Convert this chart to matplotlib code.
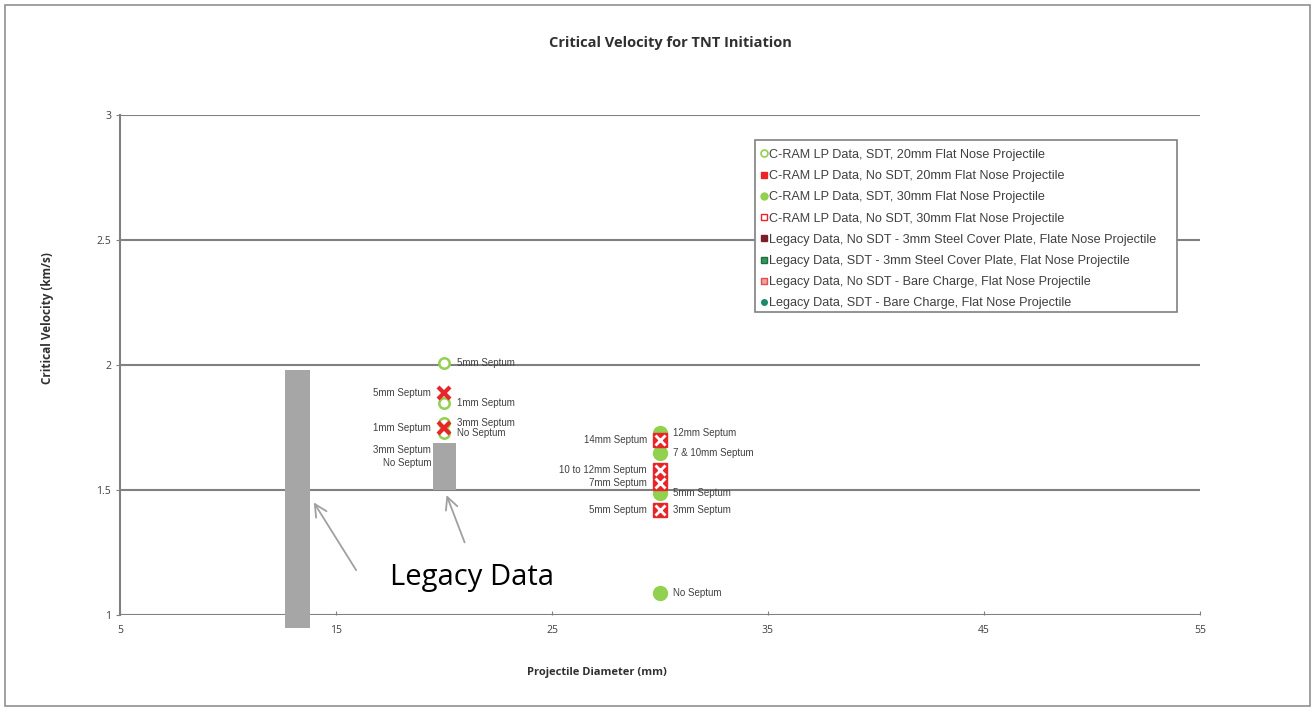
import matplotlib
matplotlib.use("Agg")
import matplotlib.pyplot as plt
from matplotlib.patches import Rectangle
from matplotlib.lines import Line2D

plt.rcParams['font.family'] = ['Open Sans', 'DejaVu Sans']

# ---- data ----
sdt20_x = [20, 20, 20, 20]
sdt20_y = [2.01, 1.85, 1.77, 1.73]
sdt20_lbl = ["5mm Septum", "1mm Septum", "3mm Septum", "No Septum"]

nosdt20_x = [20, 20]
nosdt20_y = [1.89, 1.75]
nosdt20_lbl = ["5mm Septum", "1mm Septum"]

sdt30_x = [30, 30, 30, 30]
sdt30_y = [1.73, 1.65, 1.49, 1.09]
sdt30_lbl = ["12mm Septum", "7 & 10mm Septum", "5mm Septum", "No Septum"]

nosdt30_x = [30, 30, 30, 30]
nosdt30_y = [1.70, 1.58, 1.53, 1.42]
nosdt30_lbl = ["14mm Septum", "10 to 12mm Septum", "7mm Septum", "5mm Septum"]

extra_right_x = [30]
extra_right_y = [1.42]
extra_right_lbl = ["3mm Septum"]

legacy_lbl_x = [20, 20]
legacy_lbl_y = [1.66, 1.61]
legacy_lbl = ["3mm Septum", "No Septum"]

# legacy shaded ranges: (x0, x1, y0, y1)
legacy_bars = [(12.65, 13.8, 0.95, 1.98), (19.47, 20.55, 1.5, 1.69)]

series_names = [
    "C-RAM LP Data, SDT, 20mm Flat Nose Projectile",
    "C-RAM LP Data, No SDT, 20mm Flat Nose Projectile",
    "C-RAM LP Data, SDT, 30mm Flat Nose Projectile",
    "C-RAM LP Data, No SDT, 30mm Flat Nose Projectile",
    "Legacy Data, No SDT - 3mm Steel Cover Plate, Flate Nose Projectile",
    "Legacy Data, SDT - 3mm Steel Cover Plate, Flat Nose Projectile",
    "Legacy Data, No SDT - Bare Charge, Flat Nose Projectile",
    "Legacy Data, SDT - Bare Charge, Flat Nose Projectile",
]

x_ticks = [5, 15, 25, 35, 45, 55]
y_ticks = [1, 1.5, 2, 2.5, 3]

GREEN = "#92d050"
RED = "#e8262a"
grid_c = "#808080"
txt_c = "#404040"
ARIAL = ['Liberation Sans', 'DejaVu Sans']

fig = plt.figure(figsize=(13.15, 7.12), dpi=100)
ax = fig.add_axes([0.0913, 0.1362, 0.8212, 0.7023])
ax.set_xlim(5, 55)
ax.set_ylim(1, 3)
ax.set_xticks(x_ticks)
ax.set_yticks(y_ticks)
ax.set_yticklabels([f"{v:g}" for v in y_ticks])
for s in ["top", "right", "bottom"]:
    ax.spines[s].set_visible(False)
ax.spines["left"].set_color(grid_c)
ax.spines["left"].set_linewidth(1.5)
for yv in y_ticks:
    ax.axhline(yv, color=grid_c, lw=1.5, zorder=1)
ax.tick_params(axis='both', colors=grid_c, labelcolor=txt_c, labelsize=7.5, length=3)
ax.tick_params(axis='x', direction='in', pad=7)

# series
ax.plot(sdt20_x, sdt20_y, 'o', ms=7.5, mfc='white', mec=GREEN, mew=1.8, zorder=4)
ax.plot(nosdt20_x, nosdt20_y, 'x', ms=8.5, mec=RED, mew=3, zorder=5)
ax.plot(sdt30_x, sdt30_y, 'o', ms=10, mfc=GREEN, mec=GREEN, zorder=4)
ax.plot(nosdt30_x, nosdt30_y, 's', ms=10, mfc=RED, mec=RED, zorder=5)
ax.plot(nosdt30_x, nosdt30_y, 'x', ms=7, mec='white', mew=2, zorder=6)

fs = 7
dx = 0.6
def lab(xs, ys, ts, side):
    for x, y, t in zip(xs, ys, ts):
        if side == 'r':
            ax.text(x + dx, y, t, fontsize=fs, color=txt_c, va='center', ha='left',
                    family=ARIAL, zorder=7)
        else:
            ax.text(x - dx, y, t, fontsize=fs, color=txt_c, va='center', ha='right',
                    family=ARIAL, zorder=7)

lab(sdt20_x, sdt20_y, sdt20_lbl, 'r')
lab(nosdt20_x, nosdt20_y, nosdt20_lbl, 'l')
lab(sdt30_x, sdt30_y, sdt30_lbl, 'r')
lab(extra_right_x, extra_right_y, extra_right_lbl, 'r')
lab(nosdt30_x, nosdt30_y, nosdt30_lbl, 'l')
lab(legacy_lbl_x, legacy_lbl_y, legacy_lbl, 'l')

# legacy bars
for x0, x1, y0, y1 in legacy_bars:
    ax.add_patch(Rectangle((x0, y0), x1 - x0, y1 - y0, facecolor="#a6a6a6",
                           edgecolor='none', zorder=8, clip_on=False))

# annotation
ax.text(17.5, 1.15, "Legacy Data", fontsize=21, color='black', ha='left', va='center',
        zorder=9)
ax.annotate("", xy=(13.9, 1.46), xytext=(16.0, 1.17),
            arrowprops=dict(arrowstyle='->', color='#a0a0a0', lw=1.3, mutation_scale=22), zorder=9)
ax.annotate("", xy=(20.07, 1.49), xytext=(21.0, 1.28),
            arrowprops=dict(arrowstyle='->', color='#a0a0a0', lw=1.3, mutation_scale=22), zorder=9)

# legend
handles = [
    Line2D([], [], ls='none', marker='o', ms=5, mfc='white', mec=GREEN, mew=1.2),
    Line2D([], [], ls='none', marker='s', ms=4, mfc=RED, mec=RED),
    Line2D([], [], ls='none', marker='o', ms=5, mfc=GREEN, mec=GREEN),
    Line2D([], [], ls='none', marker='s', ms=5, mfc='white', mec=RED, mew=1),
    Line2D([], [], ls='none', marker='s', ms=5, mfc='#7b1f2e', mec='#7b1f2e'),
    Line2D([], [], ls='none', marker='s', ms=5, mfc='#2e9c5a', mec='#1f6e3f'),
    Line2D([], [], ls='none', marker='s', ms=5, mfc='#f2a0a0', mec='#e05050'),
    Line2D([], [], ls='none', marker='o', ms=4, mfc='#1a8a6a', mec='#1a8a6a'),
]
leg_box = (0.588, 0.606, 0.3907, 0.344)
ax.add_patch(Rectangle(leg_box[:2], leg_box[2], leg_box[3], transform=ax.transAxes,
                       facecolor='white', edgecolor='#808080', lw=1.2, zorder=9.5))
leg = ax.legend(handles, series_names, loc='upper left', bbox_to_anchor=(0.5885, 0.941),
                prop={'family': ARIAL, 'size': 9.1}, frameon=False,
                handlelength=0.6, handletextpad=0.15, borderpad=0.35, labelspacing=0.73,
                borderaxespad=0)
for t in leg.get_texts():
    t.set_color(txt_c)
leg.set_zorder(10)

fig.text(0.5095, 0.94, "Critical Velocity for TNT Initiation", fontsize=10.5, fontweight='bold',
         ha='center', va='center', color='#303030')
fig.text(0.454, 0.056, "Projectile Diameter (mm)", fontsize=8, fontweight='bold',
         ha='center', va='center', color='#303030')
fig.text(0.0365, 0.553, "Critical Velocity (km/s)", fontsize=8.5, fontweight='bold',
         ha='center', va='center', rotation=90, color='#303030')

# outer frame
fig.add_artist(Rectangle((0.004, 0.008), 0.992, 0.985, transform=fig.transFigure,
                         fill=False, edgecolor='#909090', lw=1.2))

fig.savefig("out.png", dpi=100)
